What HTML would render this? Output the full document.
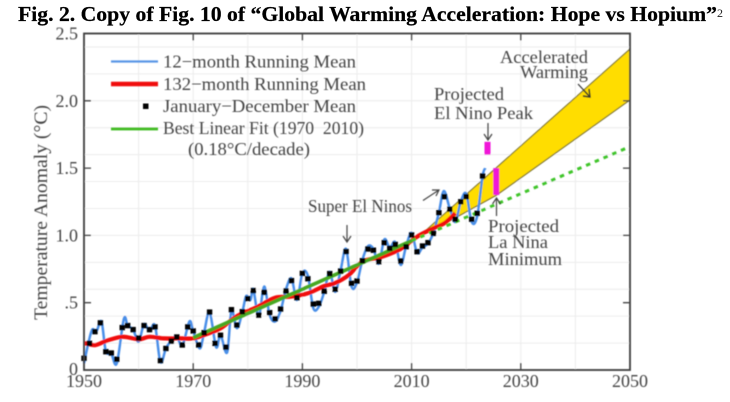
<!DOCTYPE html>
<html lang="en">
<head>
<meta charset="utf-8">
<title>Global Warming Acceleration chart</title>
<style>
html,body{margin:0;padding:0;background:#fff;}
body{width:730px;height:402px;overflow:hidden;position:relative;}
svg{position:absolute;left:0;top:0;}
text{font-family:"Liberation Serif",serif;}
.lab{fill:#454545;font-size:18px;}
</style>
</head>
<body>
<svg id="chart" width="730" height="402" viewBox="0 0 730 402" xmlns="http://www.w3.org/2000/svg">
<defs><filter id="soft" x="-5%" y="-5%" width="110%" height="110%"><feGaussianBlur stdDeviation="0.45"/></filter></defs>
<text x="18" y="21" font-size="21.5" font-weight="bold" fill="#000" stroke="#000" stroke-width="0.25" textLength="699" lengthAdjust="spacingAndGlyphs">Fig. 2. Copy of Fig. 10 of “Global Warming Acceleration: Hope vs Hopium”</text>
<text x="717" y="17" font-size="12" fill="#222">2</text>
<g id="plot" filter="url(#soft)"></g>
<g filter="url(#soft)">
<line x1="111" y1="61.5" x2="158" y2="61.5" stroke="#5a96e6" stroke-width="2.2"/>
<text class="lab" x="163" y="67.5" textLength="193" lengthAdjust="spacingAndGlyphs">12−month Running Mean</text>
<line x1="111" y1="84" x2="158" y2="84" stroke="#f00d0d" stroke-width="4.5"/>
<text class="lab" x="163" y="90" textLength="203" lengthAdjust="spacingAndGlyphs">132−month Running Mean</text>
<rect x="143" y="103.500" width="5.500" height="5.500" fill="#000"/>
<text class="lab" x="163" y="112" textLength="193" lengthAdjust="spacingAndGlyphs">January−December Mean</text>
<line x1="111" y1="129" x2="158" y2="129" stroke="#3fbb22" stroke-width="2.8"/>
<text class="lab" x="163" y="134" textLength="201" lengthAdjust="spacingAndGlyphs">Best Linear Fit (1970&#160;&#160;2010)</text>
<text class="lab" x="188" y="155" textLength="122" lengthAdjust="spacingAndGlyphs">(0.18°C/decade)</text>
</g>
<g filter="url(#soft)">
<text class="lab" style="font-size:19px" transform="translate(47,320) rotate(-90)" textLength="215" lengthAdjust="spacingAndGlyphs">Temperature Anomaly (°C)</text>
<text class="lab" x="500" y="63" textLength="88" lengthAdjust="spacingAndGlyphs">Accelerated</text>
<text class="lab" x="520" y="78" textLength="68" lengthAdjust="spacingAndGlyphs">Warming</text>
<text class="lab" x="434" y="100" textLength="70" lengthAdjust="spacingAndGlyphs">Projected</text>
<text class="lab" x="434" y="119" textLength="99" lengthAdjust="spacingAndGlyphs">El Nino Peak</text>
<text class="lab" x="308" y="212" textLength="104" lengthAdjust="spacingAndGlyphs">Super El Ninos</text>
<text class="lab" x="488" y="232" textLength="71" lengthAdjust="spacingAndGlyphs">Projected</text>
<text class="lab" x="488" y="248" textLength="60" lengthAdjust="spacingAndGlyphs">La Nina</text>
<text class="lab" x="488" y="265" textLength="74" lengthAdjust="spacingAndGlyphs">Minimum</text>
<path d="M347 225V242M343 236L347 242L351 236" fill="none" stroke="#444" stroke-width="1.2"/>
<path d="M578 84L590 97M583 96L590 97L589 89" fill="none" stroke="#333" stroke-width="1.2"/>
<path d="M488 123V140M484 134L488 140L492 134" fill="none" stroke="#444" stroke-width="1.2"/>
<path d="M496.5 216V198M492.5 204L496.5 198L500.5 204" fill="none" stroke="#444" stroke-width="1.2"/>
<path d="M423 200.500L439 190M432 190L439 190L436 196" fill="none" stroke="#444" stroke-width="1.2"/>
</g>
</svg>
<script>
// Chart data
const annualYears = [1950,1951,1952,1953,1954,1955,1956,1957,1958,1959,1960,1961,1962,1963,1964,1965,1966,1967,1968,1969,1970,1971,1972,1973,1974,1975,1976,1977,1978,1979,1980,1981,1982,1983,1984,1985,1986,1987,1988,1989,1990,1991,1992,1993,1994,1995,1996,1997,1998,1999,2000,2001,2002,2003,2004,2005,2006,2007,2008,2009,2010,2011,2012,2013,2014,2015,2016,2017,2018,2019,2020,2021,2022,2023];
const annualMean = [0.087,0.198,0.285,0.35,0.136,0.126,0.08,0.315,0.33,0.30,0.238,0.33,0.30,0.32,0.07,0.16,0.215,0.245,0.186,0.32,0.29,0.186,0.277,0.43,0.198,0.258,0.17,0.448,0.334,0.433,0.53,0.59,0.408,0.577,0.426,0.381,0.453,0.587,0.664,0.537,0.718,0.678,0.49,0.495,0.585,0.716,0.60,0.735,0.88,0.644,0.661,0.812,0.899,0.89,0.805,0.946,0.904,0.933,0.81,0.916,1.003,0.879,0.921,0.946,1.015,1.169,1.288,1.194,1.12,1.25,1.288,1.12,1.164,1.441];
const monthlyYears = [1950,1950.8,1951.5,1952.3,1953.2,1954,1955,1956,1957.3,1958,1959,1960,1961,1962,1963,1964,1965,1966,1967,1968,1969.3,1970,1971.2,1972,1973,1974.2,1975,1976.2,1977,1978,1979,1979.7,1980.5,1981,1982,1983,1984,1985,1986,1987,1988,1989,1990,1991,1992,1993,1994,1995,1996,1997,1998,1999,2000,2001,2002,2003,2004,2005,2006,2007,2008,2009,2010,2011,2012,2013,2014,2015,2015.9,2017,2018,2019,2020,2021,2022,2023,2023.5];
const monthlyMean = [0.05,0.2,0.30,0.29,0.36,0.14,0.12,0.05,0.38,0.33,0.30,0.21,0.34,0.29,0.33,0.06,0.16,0.22,0.25,0.18,0.36,0.29,0.16,0.28,0.43,0.17,0.26,0.13,0.44,0.31,0.43,0.55,0.52,0.60,0.40,0.62,0.41,0.36,0.44,0.60,0.68,0.52,0.72,0.70,0.46,0.47,0.58,0.73,0.58,0.74,0.90,0.62,0.65,0.82,0.92,0.90,0.79,0.97,0.91,0.95,0.78,0.92,1.02,0.87,0.91,0.94,1.02,1.17,1.33,1.2,1.10,1.25,1.31,1.10,1.14,1.44,1.50];
const smoothYears = [1950,1952,1954,1957,1960,1962,1964.500,1967.500,1970,1972,1975,1978,1981.700,1985,1988,1991,1994,1996,1998.500,2001,2004.500,2008,2011,2014,2016,2018];
const smoothMean = [0.20,0.185,0.215,0.247,0.228,0.247,0.235,0.235,0.235,0.26,0.31,0.40,0.468,0.537,0.545,0.57,0.624,0.646,0.706,0.805,0.84,0.90,0.99,1.053,1.09,1.165];
const fitYears = [1970,2010];
const fitValues = [0.24,0.96];
const fitProjectionYears = [2010,2050];
const fitProjectionValues = [0.96,1.66];
const wedgeYears = [2011,2050,2050,2025.6,2018];
const wedgeValues = [0.98,2.385,2.006,1.30,1.13];
const elNinoYear = [2023.9];
const elNinoRange = [1.60,1.695];
const laNinaYear = [2025.5];
const laNinaRange = [1.30,1.50];
const xTickLabels = [1950,1970,1990,2010,2030,2050];
const yTickValues = [0,0.5,1,1.5,2,2.5];
const yTickLabels = ['0','.5','1.0','1.5','2.0','2.5'];
const xGridYears = [1960,1970,1980,1990,2000,2010,2020,2030,2040];
const yGridValues = [0.2,0.4,0.6,0.8,1,1.2,1.4,1.6,1.8,2,2.2,2.4];

const NS = 'http://www.w3.org/2000/svg';
const plot = document.getElementById('plot');
function X(year){ return 84 + (year - 1950) * 5.46; }
function Y(v){ return 370 - v * 134.6; }
function mk(tag, attrs){
  const el = document.createElementNS(NS, tag);
  for (const k in attrs) el.setAttribute(k, attrs[k]);
  plot.appendChild(el);
  return el;
}
function smoothPath(xs, ys){
  const p = xs.map((x, i) => [X(x), Y(ys[i])]);
  let d = 'M' + p[0][0].toFixed(1) + ' ' + p[0][1].toFixed(1);
  for (let i = 0; i < p.length - 1; i++){
    const a = p[Math.max(i - 1, 0)], b = p[i], c = p[i + 1], e = p[Math.min(i + 2, p.length - 1)];
    d += 'C' + (b[0] + (c[0] - a[0]) / 6).toFixed(1) + ' ' + (b[1] + (c[1] - a[1]) / 6).toFixed(1) + ' ' +
         (c[0] - (e[0] - b[0]) / 6).toFixed(1) + ' ' + (c[1] - (e[1] - b[1]) / 6).toFixed(1) + ' ' +
         c[0].toFixed(1) + ' ' + c[1].toFixed(1);
  }
  return d;
}

// Grid
xGridYears.forEach(function(yr){
  const g = mk('line', {x1: X(yr), x2: X(yr), y1: Y(2.5), y2: Y(0), stroke: '#ececec', 'stroke-width': 1});
  
  
});
yGridValues.forEach(function(v){
  const g = mk('line', {x1: X(1950), x2: X(2050), y1: Y(v), y2: Y(v), stroke: '#ececec', 'stroke-width': 1});
  
  
});

// Wedge
const wedge = mk('polygon', {points: wedgeYears.map((y, i) => X(y).toFixed(1) + ',' + Y(wedgeValues[i]).toFixed(1)).join(' '), fill: '#ffdd00', stroke: '#77702a', 'stroke-width': 1.1});



// Series
const blue = mk('path', {d: smoothPath(monthlyYears, monthlyMean), fill: 'none', stroke: '#4a8fe8', 'stroke-width': 2.5});



const red = mk('path', {d: smoothPath(smoothYears, smoothMean), fill: 'none', stroke: '#f00d0d', 'stroke-width': 4.2});



const green = mk('line', {x1: X(fitYears[0]), y1: Y(fitValues[0]), x2: X(fitYears[1]), y2: Y(fitValues[1]), stroke: '#46a820', 'stroke-width': 3.6});



const dotted = mk('line', {x1: X(fitProjectionYears[0]), y1: Y(fitProjectionValues[0]), x2: X(fitProjectionYears[1]), y2: Y(fitProjectionValues[1]), stroke: '#3fc52a', 'stroke-width': 3, 'stroke-dasharray': '4.5 5'});



annualYears.forEach(function(yr, i){
  const s = mk('rect', {x: X(yr) - 2.7, y: Y(annualMean[i]) - 2.7, width: 5.4, height: 5.4, fill: '#000'});
  
  
});

const bar1 = mk('rect', {x: X(elNinoYear[0]) - 3, y: Y(elNinoRange[1]), width: 6, height: Y(elNinoRange[0]) - Y(elNinoRange[1]), fill: '#f012d8'});


const bar2 = mk('rect', {x: X(laNinaYear[0]) - 3, y: Y(laNinaRange[1]), width: 6, height: Y(laNinaRange[0]) - Y(laNinaRange[1]), fill: '#f012d8'});



// Axes frame
const frame = mk('rect', {x: X(1950), y: Y(2.5), width: X(2050) - X(1950), height: Y(0) - Y(2.5), fill: 'none', stroke: '#3c3c3c', 'stroke-width': 1.8});



// Ticks and labels
xTickLabels.forEach(function(yr){
  if (yr !== 1950 && yr !== 2050){
    const t = mk('path', {d: 'M' + X(yr) + ' ' + Y(0) + 'v-7M' + X(yr) + ' ' + Y(2.5) + 'v7', stroke: '#444', 'stroke-width': 1.3, fill: 'none'});
    
    
  }
  const l = mk('text', {x: X(yr), y: 387, 'text-anchor': 'middle', class: 'lab'});
  l.textContent = yr;
  
  
});
yTickValues.forEach(function(v, i){
  if (v !== 0 && v !== 2.5){
    const t = mk('path', {d: 'M' + X(1950) + ' ' + Y(v) + 'h7M' + X(2050) + ' ' + Y(v) + 'h-7', stroke: '#444', 'stroke-width': 1.3, fill: 'none'});
    
    
  }
  const l = mk('text', {x: 78, y: v === 0 ? 375 : Y(v) + 6, 'text-anchor': 'end', class: 'lab'});
  l.textContent = yTickLabels[i];
  
  
});
</script>
</body>
</html>
